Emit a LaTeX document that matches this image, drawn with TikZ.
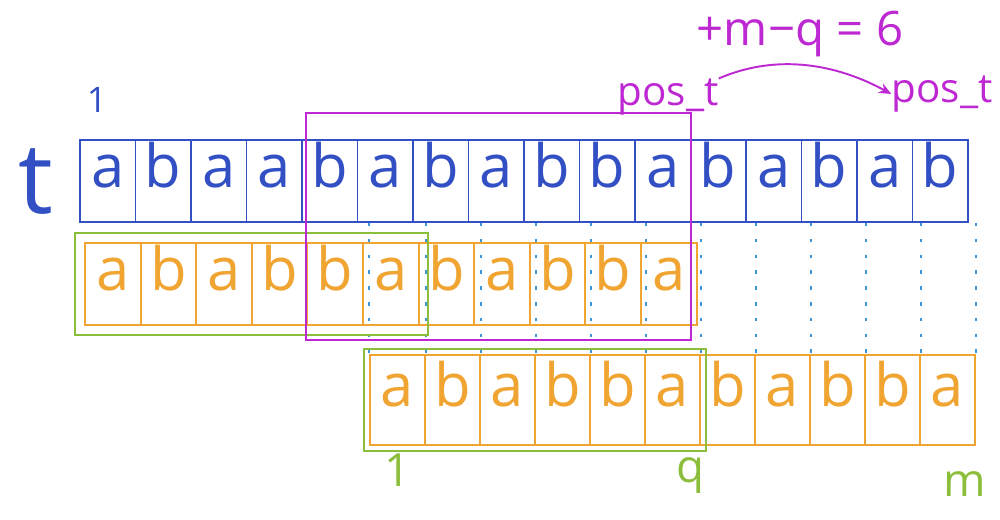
\documentclass[tikz,border=0pt]{standalone}
\usepackage{fontspec}
\setmainfont{Open Sans}
\usetikzlibrary{fit,arrows.meta}
\definecolor{tblue}{RGB}{50,80,195}
\definecolor{orng}{RGB}{240,165,50}
\definecolor{grn}{RGB}{140,190,60}
\definecolor{purp}{RGB}{190,40,210}
\definecolor{dotb}{RGB}{60,150,220}
\begin{document}
\begin{tikzpicture}[x=0.02cm,y=-0.02cm,
  tcell/.style={draw=tblue, line width=1.1pt, minimum width=1.11cm, minimum height=1.64cm,
    inner sep=0pt, text=tblue, font=\fontsize{34}{40}\selectfont, text height=0.72em, text depth=0pt},
  pcell/.style={draw=orng, line width=1.1pt, minimum width=1.112cm, minimum height=1.64cm,
    inner sep=0pt, text=orng, font=\fontsize{34}{40}\selectfont, text height=0.72em, text depth=0pt},
  rcell/.style={pcell, minimum width=1.1cm, minimum height=1.8cm},
  greenbox/.style={draw=grn, line width=1.1pt, inner sep=0pt},
  purpbox/.style={draw=purp, line width=1.2pt, inner sep=0pt},
  dotline/.style={dotb, line width=1.1pt, dash pattern=on 2pt off 7pt},
  tlabel/.style={text=tblue, font=\fontsize{56}{64}\selectfont, inner sep=0pt},
  blab/.style={text=tblue, font=\fontsize{20}{24}\selectfont, inner sep=0pt},
  plab/.style={text=purp, font=\fontsize{23}{26}\selectfont, inner sep=0pt},
  glab/.style={text=grn, font=\fontsize{26}{30}\selectfont, inner sep=0pt},
  parrow/.style={draw=purp, line width=1.1pt, -{Stealth[length=7pt,width=6pt]}}
]
\useasboundingbox (0,0) rectangle (1000,520);
% text t
\foreach \c [count=\i] in {a,b,a,a,b,a,b,a,b,b,a,b,a,b,a,b}
  \node[tcell] (t\i) at ({80+(\i-0.5)*55.5},181) {\c};
% pattern, first alignment
\foreach \c [count=\i] in {a,b,a,b,b,a,b,a,b,b,a}
  \node[pcell] (p\i) at ({85+(\i-0.5)*55.6},284) {\c};
% pattern, shifted alignment
\foreach \c [count=\i] in {a,b,a,b,b,a,b,a,b,b,a}
  \node[rcell] (r\i) at ({370+(\i-0.5)*55},400) {\c};
% dotted guides
\draw[dotline] (r1.north west |- t1.south) -- (r1.north west);
\foreach \i in {1,...,11}
  \draw[dotline] (r\i.north east |- t1.south) -- (r\i.north east);
% green prefix boxes
\node[greenbox, fit=(p1)(p6), inner xsep=5pt, inner ysep=5pt] (g1) {};
\node[greenbox, fit=(r1)(r6), inner xsep=3pt, inner ysep=3pt] (g2) {};
% purple window
\coordinate (w1) at (306,113);
\coordinate (w2) at (691,340);
\node[purpbox, fit=(w1)(w2)] (win) {};
% labels
\node[tlabel] (tname) at (36,182) {t};
\node[blab] (one) at (97,100) {1};
\node[plab] (pos1) at (668,97) {pos\_t};
\node[plab] (pos2) at (942,94) {pos\_t};
\node[plab, font=\fontsize{27}{30}\selectfont] (shift) at (800,34) {+m−q = 6};
\draw[parrow] (pos1.north east) .. controls (780,52) and (840,66) .. (pos2.west);
\node[glab] (g1lab) at (398,470) {1};
\node[glab] (gqlab) at (690,476) {q};
\node[glab] (gmlab) at (965,484) {m};
\end{tikzpicture}
\end{document}
